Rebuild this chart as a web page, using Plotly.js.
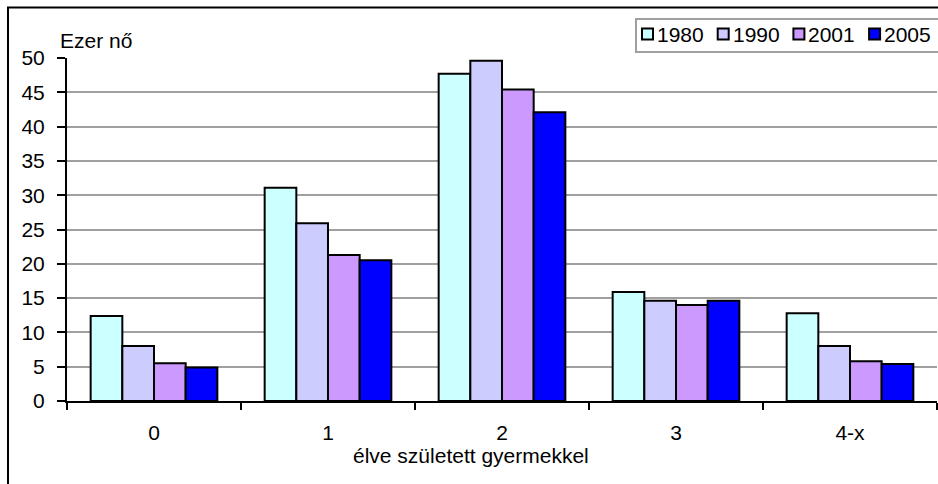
<!DOCTYPE html>
<html>
<head>
<meta charset="utf-8">
<script src="https://cdn.plot.ly/plotly-3.0.1.min.js"></script>
<style>html,body{margin:0;padding:0;background:#fff;}#chart{width:938px;height:484px;}</style>
</head>
<body>
<div id="chart"></div>
<script>
// ---- data ----
const categories = ["0", "1", "2", "3", "4-x"];
const seriesNames = ["1980", "1990", "2001", "2005"];
const v1980 = [12.4, 31.1, 47.7, 15.9, 12.8];
const v1990 = [8.0, 25.9, 49.6, 14.6, 8.0];
const v2001 = [5.5, 21.3, 45.4, 14.0, 5.8];
const v2005 = [4.9, 20.5, 42.1, 14.6, 5.4];
const yTicks = [0, 5, 10, 15, 20, 25, 30, 35, 40, 45, 50];
const yTitle = "Ezer nő";
const xTitle = "élve született gyermekkel";

// ---- styles ----
const colors = ["#CCFFFF", "#CCCCFF", "#CC99FF", "#0000FF"];
const FONT = "Liberation Sans, Arial, sans-serif";
const FS = 21;
const W = 938, H = 484;
const M = {l: 67, r: 1, t: 58, b: 83};
const PW = W - M.l - M.r, PH = H - M.t - M.b;
const px = x => (x - M.l) / PW;          // pixel -> paper x
const py = y => (H - M.b - y) / PH;      // pixel -> paper y

const values = [v1980, v1990, v2001, v2005];
const traces = values.map((v, i) => ({
  type: "bar",
  name: seriesNames[i],
  x: categories,
  y: v,
  marker: {color: colors[i], line: {color: "#000", width: 2}},
  hoverinfo: "x+y+name"
}));

const shapes = [
  // outer chart frame
  {type: "rect", xref: "paper", yref: "paper", x0: px(8), x1: px(950), y0: py(7.5), y1: py(495),
   line: {color: "#000", width: 2}, layer: "below"},
  // legend box
  {type: "rect", xref: "paper", yref: "paper", x0: px(636), x1: px(950), y0: py(19), y1: py(52),
   line: {color: "#a0a0a0", width: 2}, fillcolor: "#fff", layer: "above"}
];
const annotations = [
  {xref: "paper", yref: "paper", x: px(58), y: py(40), xanchor: "left", yanchor: "middle",
   text: yTitle, showarrow: false, font: {family: FONT, size: FS, color: "#000"}},
  {xref: "paper", yref: "paper", x: px(471), y: py(455), xanchor: "center", yanchor: "middle",
   text: xTitle, showarrow: false, font: {family: FONT, size: FS, color: "#000"}}
];
// custom legend (swatch + name)
seriesNames.forEach((n, i) => {
  const x0 = 642 + i * 75.7;
  shapes.push({type: "rect", xref: "paper", yref: "paper", x0: px(x0), x1: px(x0 + 11), y0: py(28.5), y1: py(39.5),
    fillcolor: colors[i], line: {color: "#000", width: 2}, layer: "above"});
  annotations.push({xref: "paper", yref: "paper", x: px(x0 + 13), y: py(34.5), xanchor: "left", yanchor: "middle",
    text: n, showarrow: false, font: {family: FONT, size: FS, color: "#000"}});
});

const layout = {
  width: W, height: H,
  margin: M,
  paper_bgcolor: "#fff", plot_bgcolor: "#fff",
  showlegend: false,
  barmode: "group",
  bargap: 0.272,
  bargroupgap: 0,
  font: {family: FONT, size: FS, color: "#000"},
  xaxis: {
    type: "category",
    range: [-0.5, 4.5],
    showline: true, linecolor: "#000", linewidth: 2,
    ticks: "outside", tickson: "boundaries", ticklen: 7, tickwidth: 2, tickcolor: "#000",
    showgrid: false, zeroline: false,
    ticklabelstandoff: 12,
    tickfont: {family: FONT, size: FS, color: "#000"}
  },
  yaxis: {
    range: [0, 50],
    tickvals: yTicks,
    ticktext: yTicks.map(String),
    showline: true, linecolor: "#000", linewidth: 2,
    ticks: "outside", ticklen: 8, tickwidth: 2, tickcolor: "#000",
    showgrid: true, gridcolor: "#a0a0a0", gridwidth: 2,
    zeroline: false,
    ticklabelstandoff: 8,
    tickfont: {family: FONT, size: FS, color: "#000"}
  },
  shapes: shapes,
  annotations: annotations
};

Plotly.newPlot("chart", traces, layout, {displayModeBar: false, staticPlot: true});
</script>
</body>
</html>
